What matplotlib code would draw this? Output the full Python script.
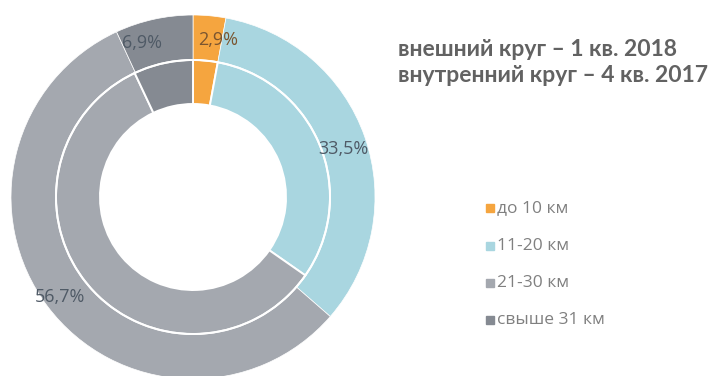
import numpy as np
import matplotlib.pyplot as plt

categories = ["до 10 км", "11-20 км", "21-30 км", "свыше 31 км"]
outer_q1_2018 = [2.9, 33.5, 56.7, 6.9]
inner_q4_2017 = [2.9, 31.8, 58.3, 7.0]
outer_labels = ["2,9%", "33,5%", "56,7%", "6,9%"]
colors = ["#F5A53F", "#A9D6E0", "#A4A8AF", "#858A92"]

W, H = 716, 376
fig = plt.figure(figsize=(W / 100, H / 100), dpi=100)

# donut axes placed in pixels: centre (193, 197), outer radius 182
cx, cy, R = 193, 197, 182
ax = fig.add_axes([(cx - R) / W, 1 - (cy + R) / H, 2 * R / W, 2 * R / H])

r_mid = 137 / R
r_hole = 93 / R

ax.pie(outer_q1_2018, radius=1.0, colors=colors, startangle=90,
       counterclock=False,
       wedgeprops=dict(width=1 - r_mid, edgecolor="white", linewidth=0.5))
ax.pie(inner_q4_2017, radius=r_mid, colors=colors, startangle=90,
       counterclock=False,
       wedgeprops=dict(width=r_mid - r_hole, edgecolor="white", linewidth=1.4))
# white ring between the two series
ax.add_patch(plt.Circle((0, 0), r_mid, fill=False, edgecolor="white", linewidth=1.4))
ax.set_xlim(-1, 1)
ax.set_ylim(-1, 1)
ax.set_aspect("equal")
ax.axis("off")

# value labels on outer ring
nudges = [(8, 0), (1, -3), (-5, -4), (-12, 0)]
label_colors = ["#7a5530", "#4f5a66", "#4f5a66", "#4f5a66"]
cum = np.cumsum([0] + outer_q1_2018[:-1])
for v, c0, txt, (dx, dy), tc in zip(outer_q1_2018, cum, outer_labels, nudges, label_colors):
    ang = np.deg2rad(90 - (c0 + v / 2) / 100 * 360)
    r = 0.865
    ax.annotate(txt, (r * np.cos(ang), r * np.sin(ang)), xytext=(dx, dy),
                textcoords="offset points", ha="center", va="center",
                fontsize=13, color=tc, family="Open Sans")

fig.text(398 / W, 1 - 50 / H, "внешний круг – 1 кв. 2018", fontsize=16.5,
         fontweight="bold", color="#626262", family="Lato", va="center")
fig.text(398 / W, 1 - 76 / H, "внутренний круг – 4 кв. 2017", fontsize=16.5,
         fontweight="bold", color="#626262", family="Lato", va="center")

# legend
ys = [208, 246, 283, 320]
for name, col, y in zip(categories, colors, ys):
    fig.patches.append(plt.Rectangle((486 / W, 1 - (y + 4) / H), 8 / W, 8 / H,
                                     transform=fig.transFigure, color=col))
    fig.text(497 / W, 1 - y / H, name, fontsize=12.5, color="#808080",
             family="Open Sans", va="center")

fig.savefig("out.png", dpi=100)
